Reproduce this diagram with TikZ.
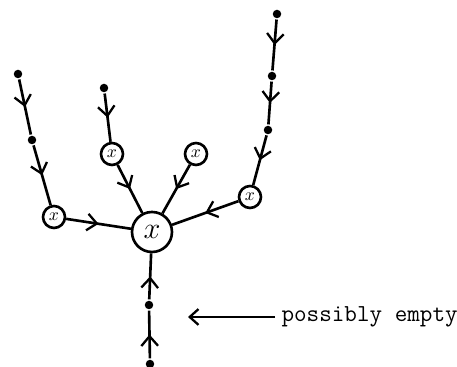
\documentclass[tikz,border=0pt]{standalone}
\usetikzlibrary{arrows.meta,decorations.markings}
\begin{document}
\begin{tikzpicture}[x=0.02cm, y=-0.02cm, line width=1.5pt, main node/.style={circle,draw,minimum size=.44cm,inner sep=0pt,font=\normalsize}, root node/.style={circle,draw,minimum size=.8cm,inner sep=0pt,font=\LARGE}, leaf dot/.style={circle,fill,minimum size=.17cm,inner sep=0pt}, mid/.style={postaction={decorate,decoration={markings,mark=at position .5 with {\arrow{Straight Barb[length=5.5pt,width=9.5pt,line width=1.3pt]}}}}}]
\useasboundingbox (0,0) rectangle (457,367);
\begin{scope}
\node[root node] (r) at (152,232) {$x$};
\node[main node] (a) at (54,217) {$x$};
\node[main node] (b) at (112,154) {$x$};
\node[main node] (c) at (196,154) {$x$};
\node[main node] (d) at (250,197) {$x$};
\node[leaf dot] (a1) at (18,74) {};
\node[leaf dot] (a2) at (32,140) {};
\node[leaf dot] (b1) at (104,88) {};
\node[leaf dot] (d1) at (277,14) {};
\node[leaf dot] (d2) at (272,76) {};
\node[leaf dot] (d3) at (268,130) {};
\node[leaf dot] (e1) at (150,364) {};
\node[leaf dot] (e2) at (149,305) {};
%\node[leaf dot] () at (,) {};
\end{scope}
\begin{scope}
\draw  (a1) edge[mid] (a2);
\draw  (a2) edge[mid] (a);
\draw  (b1) edge[mid] (b);
\draw  (d1) edge[mid] (d2);
\draw  (d2) edge[mid] (d3);
\draw  (d3) edge[mid] (d);
\draw  (a) edge[mid] (r);
\draw  (b) edge[mid] (r);
\draw  (c) edge[mid] (r);
\draw  (d) edge[mid] (r);
\draw  (e1) edge[mid] (e2);
\draw  (e2) edge[mid] (r);
\end{scope}
\node[anchor=west,inner sep=3pt,font=\ttfamily\fontsize{13.9}{16}\selectfont] (note) at (275,317) {possibly empty};
\coordinate (tip) at (188,317);
\draw[line width=1.3pt,-{Straight Barb[length=5pt,width=9pt]}] (note.west) -- (tip);
\end{tikzpicture}
\end{document}
